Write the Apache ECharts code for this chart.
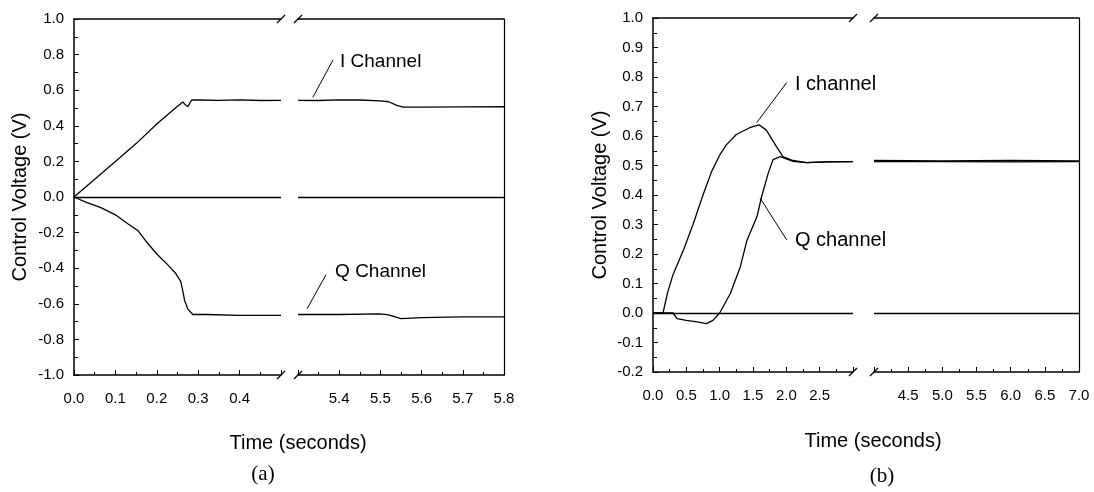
<!DOCTYPE html>
<html>
<head>
<meta charset="utf-8">
<script src="https://cdn.jsdelivr.net/npm/echarts@6/dist/echarts.min.js"></script>
<style>
  html, body { margin: 0; padding: 0; background: #fff; }
  #chart { width: 1094px; height: 492px; }
</style>
</head>
<body>
<div id="chart"></div>
<script>
// ---- data ----
// panel (a), left segment 0..0.5 s
var aLeftT_I = [0, 0.05, 0.1, 0.15, 0.2, 0.25, 0.263, 0.268, 0.275, 0.284, 0.3, 0.35, 0.4, 0.45, 0.5];
var aLeftI   = [0, 0.10, 0.20, 0.30, 0.41, 0.51, 0.534, 0.52, 0.508, 0.545, 0.545, 0.543, 0.546, 0.542, 0.543];
var aLeftT_Q = [0, 0.03, 0.065, 0.1, 0.13, 0.155, 0.178, 0.2, 0.226, 0.246, 0.258, 0.263, 0.267, 0.275, 0.287, 0.32, 0.4, 0.5];
var aLeftQ   = [0, -0.03, -0.06, -0.1, -0.15, -0.19, -0.26, -0.32, -0.38, -0.43, -0.475, -0.53, -0.58, -0.63, -0.66, -0.66, -0.665, -0.665];
// panel (a), right segment 5.3..5.8 s
var aRightT_I = [5.3, 5.35, 5.4, 5.45, 5.5, 5.52, 5.54, 5.555, 5.6, 5.7, 5.8];
var aRightI   = [0.543, 0.542, 0.546, 0.545, 0.54, 0.535, 0.515, 0.505, 0.505, 0.506, 0.507];
var aRightT_Q = [5.3, 5.4, 5.5, 5.52, 5.55, 5.6, 5.7, 5.8];
var aRightQ   = [-0.66, -0.66, -0.657, -0.662, -0.683, -0.678, -0.674, -0.674];
// panel (b), left segment 0..3 s
var bLeftT_I = [0, 0.15, 0.22, 0.3, 0.46, 0.6, 0.75, 0.88, 1.0, 1.1, 1.25, 1.45, 1.59, 1.7, 1.85, 1.95, 2.1, 2.3, 2.6, 3.0];
var bLeftI   = [0, 0, 0.07, 0.13, 0.215, 0.3, 0.4, 0.48, 0.535, 0.57, 0.605, 0.628, 0.638, 0.62, 0.565, 0.53, 0.517, 0.51, 0.512, 0.513];
var bLeftT_Q = [0, 0.3, 0.36, 0.5, 0.66, 0.8, 0.9, 1.0, 1.16, 1.31, 1.41, 1.56, 1.63, 1.73, 1.8, 1.91, 2.1, 2.3, 2.6, 3.0];
var bLeftQ   = [0, 0, -0.019, -0.025, -0.03, -0.036, -0.025, 0.0, 0.066, 0.157, 0.247, 0.327, 0.395, 0.475, 0.52, 0.53, 0.514, 0.51, 0.512, 0.513];
// panel (b), right segment 4..7 s
var bRightT = [4.0, 5.0, 6.0, 7.0];
var bRightI = [0.517, 0.516, 0.517, 0.516];
var bRightQ = [0.513, 0.513, 0.512, 0.513];

// axis ranges [min, max, interval]
var aLeftX = [0, 0.5, 0.1];
var aRightX = [5.3, 5.8, 0.1];
var aY = [-1, 1, 0.2];
var bLeftX = [0, 3, 0.5];
var bRightX = [4, 7, 0.5];
var bY = [-0.2, 1, 0.1];

// annotation texts and where their leaders point (data coords)
var annoText = ['I Channel', 'Q Channel', 'I channel', 'Q channel'];
var annoGrid = [1, 1, 2, 2];
var annoTextAt = [[5.402, 0.758], [5.39, -0.419], [2.13, 0.774], [2.13, 0.247]];
var annoFrom = [[5.385, 0.77], [5.368, -0.436], [2.005, 0.781], [2.005, 0.248]];
var annoTo = [[5.336, 0.56], [5.322, -0.628], [1.555, 0.645], [1.605, 0.39]];

var ink = '#000';
var sans = 'Arial, "Liberation Sans", Helvetica, sans-serif';
var serif = '"Times New Roman", "Liberation Serif", serif';

var grids = [
  { left: 74, top: 19, width: 207, height: 356 },
  { left: 298, top: 19, width: 206, height: 356 },
  { left: 653, top: 18, width: 200, height: 354 },
  { left: 874, top: 18, width: 205, height: 354 }
];

function zip(t, v) {
  return t.map(function(x, i) { return [x, v[i]]; });
}

function bottomAxis(gi, r, hideMin, hideMax) {
  return {
    type: 'value', gridIndex: gi, position: 'bottom', min: r[0], max: r[1], interval: r[2],
    axisLine: { show: true, onZero: false, lineStyle: { color: ink, width: 1.5 } },
    axisTick: { show: true, inside: true, length: 5, lineStyle: { color: ink, width: 1 } },
    minorTick: { show: true, splitNumber: 2, length: 3, lineStyle: { color: ink, width: 1 } },
    axisLabel: {
      show: true, margin: 16, color: ink, fontSize: 15, fontFamily: sans,
      showMinLabel: !hideMin, showMaxLabel: !hideMax,
      formatter: function(v) { return v.toFixed(1); }
    },
    splitLine: { show: false }
  };
}

function topAxis(gi, r) {
  return {
    type: 'value', gridIndex: gi, position: 'top', min: r[0], max: r[1],
    axisLine: { show: true, onZero: false, lineStyle: { color: ink, width: 1.5 } },
    axisTick: { show: false }, axisLabel: { show: false }, splitLine: { show: false }
  };
}

function leftAxis(gi, r) {
  return {
    type: 'value', gridIndex: gi, position: 'left', min: r[0], max: r[1], interval: r[2],
    axisLine: { show: true, onZero: false, lineStyle: { color: ink, width: 1.5 } },
    axisTick: { show: true, inside: true, length: 5, lineStyle: { color: ink, width: 1 } },
    minorTick: { show: true, splitNumber: 2, length: 4, lineStyle: { color: ink, width: 1 } },
    axisLabel: {
      show: true, margin: 10, color: ink, fontSize: 15, fontFamily: sans,
      formatter: function(v) { return v.toFixed(1); }
    },
    splitLine: { show: false }
  };
}

function rightAxis(gi, r) {
  return {
    type: 'value', gridIndex: gi, position: 'right', min: r[0], max: r[1],
    axisLine: { show: true, onZero: false, lineStyle: { color: ink, width: 1.2 } },
    axisTick: { show: false }, axisLabel: { show: false }, splitLine: { show: false }
  };
}

function curve(gi, t, v, zero) {
  var s = {
    type: 'line', xAxisIndex: gi, yAxisIndex: gi, data: zip(t, v),
    showSymbol: false, silent: true, smooth: false,
    lineStyle: { color: ink, width: 1.3 }, itemStyle: { color: ink }
  };
  if (zero) {
    s.markLine = {
      silent: true, symbol: 'none', label: { show: false },
      lineStyle: { color: ink, width: 1.3, type: 'solid' },
      data: [{ yAxis: 0 }]
    };
  }
  return s;
}

var chart = echarts.init(document.getElementById('chart'), null, { renderer: 'canvas' });
chart.setOption({
  animation: false,
  backgroundColor: '#fff',
  grid: grids,
  xAxis: [
    bottomAxis(0, aLeftX, false, true),
    bottomAxis(1, aRightX, true, false),
    bottomAxis(2, bLeftX, false, true),
    bottomAxis(3, bRightX, true, false),
    topAxis(0, aLeftX), topAxis(1, aRightX), topAxis(2, bLeftX), topAxis(3, bRightX)
  ],
  yAxis: [leftAxis(0, aY), rightAxis(1, aY), leftAxis(2, bY), rightAxis(3, bY)],
  series: [
    curve(0, aLeftT_I, aLeftI, true),
    curve(0, aLeftT_Q, aLeftQ, false),
    curve(1, aRightT_I, aRightI, true),
    curve(1, aRightT_Q, aRightQ, false),
    curve(2, bLeftT_I, bLeftI, true),
    curve(2, bLeftT_Q, bLeftQ, false),
    curve(3, bRightT, bRightI, true),
    curve(3, bRightT, bRightQ, false)
  ]
});

// decorations: axis break slashes, titles, annotation leaders
var g = [];
function line(x1, y1, x2, y2, w) {
  g.push({ type: 'line', shape: { x1: x1, y1: y1, x2: x2, y2: y2 }, style: { stroke: ink, lineWidth: w || 1.3 }, silent: true });
}
function text(s, x, y, size, font, rot, align) {
  g.push({
    type: 'text', x: x, y: y, rotation: rot || 0, silent: true,
    style: { text: s, fill: ink, fontSize: size, fontFamily: font, align: align || 'center', verticalAlign: 'middle' }
  });
}

[[0, 1], [2, 3]].forEach(function(pair) {
  var L = grids[pair[0]], R = grids[pair[1]];
  var xe = L.left + L.width, xs = R.left;
  [L.top, L.top + L.height].forEach(function(y) {
    line(xe - 4, y + 4, xe + 4, y - 4, 1.3);
    line(xs - 4, y + 4, xs + 4, y - 4, 1.3);
  });
});

text('Control Voltage (V)', 20, 197, 20, sans, Math.PI / 2);
text('Control Voltage (V)', 600, 195, 20, sans, Math.PI / 2);
text('Time (seconds)', 298, 443, 20, sans);
text('Time (seconds)', 873, 441, 20, sans);
text('(a)', 263, 474, 21, serif);
text('(b)', 882, 476, 21, serif);

annoText.forEach(function(s, i) {
  var gi = annoGrid[i];
  var p1 = chart.convertToPixel({ xAxisIndex: gi, yAxisIndex: gi }, annoFrom[i]);
  var p2 = chart.convertToPixel({ xAxisIndex: gi, yAxisIndex: gi }, annoTo[i]);
  var pt = chart.convertToPixel({ xAxisIndex: gi, yAxisIndex: gi }, annoTextAt[i]);
  line(p1[0], p1[1], p2[0], p2[1], 1);
  text(s, pt[0], pt[1], i < 2 ? 19 : 20, sans, 0, 'left');
});

chart.setOption({ graphic: g });
window.addEventListener('resize', function() { chart.resize(); });
</script>
</body>
</html>
